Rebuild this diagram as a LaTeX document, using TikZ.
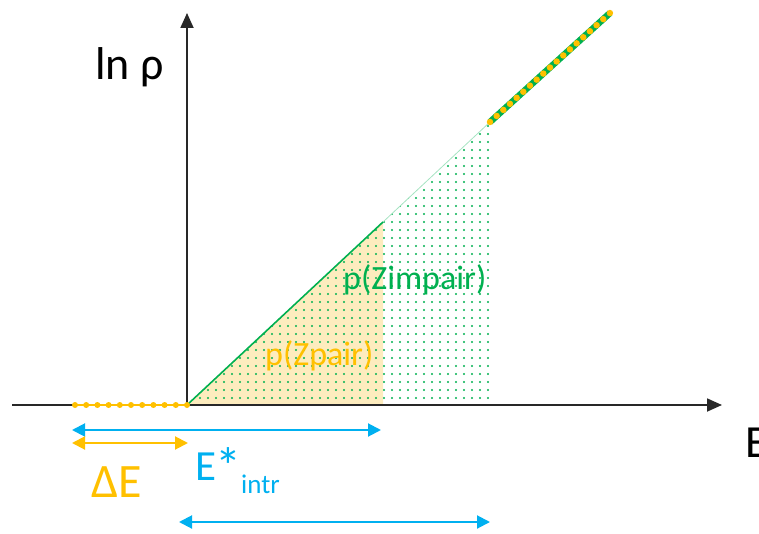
\documentclass[tikz,border=0pt]{standalone}
\usepackage{fontspec}
\setmainfont{Carlito}
\usetikzlibrary{arrows.meta,patterns.meta}
\definecolor{cblue}{RGB}{0,176,240}
\definecolor{corange}{RGB}{255,192,0}
\definecolor{cgreen}{RGB}{0,176,80}
\definecolor{cfill}{RGB}{253,236,190}
\definecolor{caxis}{RGB}{40,40,40}
\tikzset{
  axisline/.style={draw=caxis, line width=1.8pt, -{Triangle[length=15pt,width=13pt]}},
  dimarrow/.style={line width=2pt, {Triangle[length=13pt,width=13pt]}-{Triangle[length=13pt,width=13pt]}},
  lbl/.style={inner sep=0pt, anchor=base west},
}
\begin{document}
\begin{tikzpicture}[x=1pt,y=1pt]
\useasboundingbox (0,0) rectangle (759,-534);
% coordinates
\coordinate (O) at (187,-405);
\coordinate (Ytop) at (187,-13);
\coordinate (Xl) at (12,-405);
\coordinate (Xr) at (722,-405);
\coordinate (Dl) at (75,-405);
\coordinate (Mid) at (383,-222);
\coordinate (MidB) at (383,-405);
\coordinate (Top) at (490,-122);
\coordinate (TopB) at (490,-405);
\coordinate (End) at (610,-13);
% fills
\fill[cfill] (O) -- (Mid) -- (MidB) -- cycle;
\fill[pattern={Dots[radius=1.1pt,distance=8pt]}, pattern color=cgreen] (O) -- (Top) -- (TopB) -- cycle;
% axes
\draw[axisline] (Xl) -- (Xr);
\draw[axisline] (O) -- (Ytop);
% curve
\draw[cgreen, line width=1.6pt] (O) -- (Mid);
\draw[cgreen!35, line width=0.8pt] (Mid) -- (Top);
\draw[cgreen, line width=6.5pt] (Top) -- (End);
\draw[corange, line width=6.5pt, line cap=round, dash pattern=on 0pt off 9pt] (Top) -- (End);
% orange dotted segment on axis
\draw[corange, line width=2pt] (Dl) -- (O);
\draw[corange, line width=6pt, line cap=round, dash pattern=on 0pt off 11.2pt] (Dl) -- (O);
% dimension arrows
\coordinate (A1l) at (72,-430); \coordinate (A1r) at (381,-430);
\coordinate (A2l) at (72,-443); \coordinate (A2r) at (188,-443);
\coordinate (A3l) at (179,-522); \coordinate (A3r) at (490,-522);
\draw[dimarrow, cblue] (A1l) -- (A1r);
\draw[dimarrow, corange] (A2l) -- (A2r);
\draw[dimarrow, cblue] (A3l) -- (A3r);
% labels
\node[lbl, font=\fontsize{46}{50}\selectfont] (lnrho) at (95,-80) {ln ρ};
\node[lbl, font=\fontsize{46}{50}\selectfont] (elabel) at (745,-457) {E};
\node[lbl, font=\fontsize{48}{52}\selectfont, text=corange] (de) at (91,-497) {ΔE};
\node[lbl, font=\fontsize{43}{48}\selectfont, text=cblue] (estar) at (195,-480) {E\kern-1pt\raisebox{-4pt}{\fontsize{52}{56}\selectfont*}};
\node[lbl, font=\fontsize{27}{30}\selectfont, text=cblue] (intr) at (241,-493) {intr};
\node[lbl, font=\fontsize{34}{36}\selectfont, text=corange] (pz) at (265,-365) {p(Zpair)};
\node[lbl, font=\fontsize{34}{36}\selectfont, text=cgreen] (pzi) at (343,-289) {p(Zimpair)};
\end{tikzpicture}
\end{document}
